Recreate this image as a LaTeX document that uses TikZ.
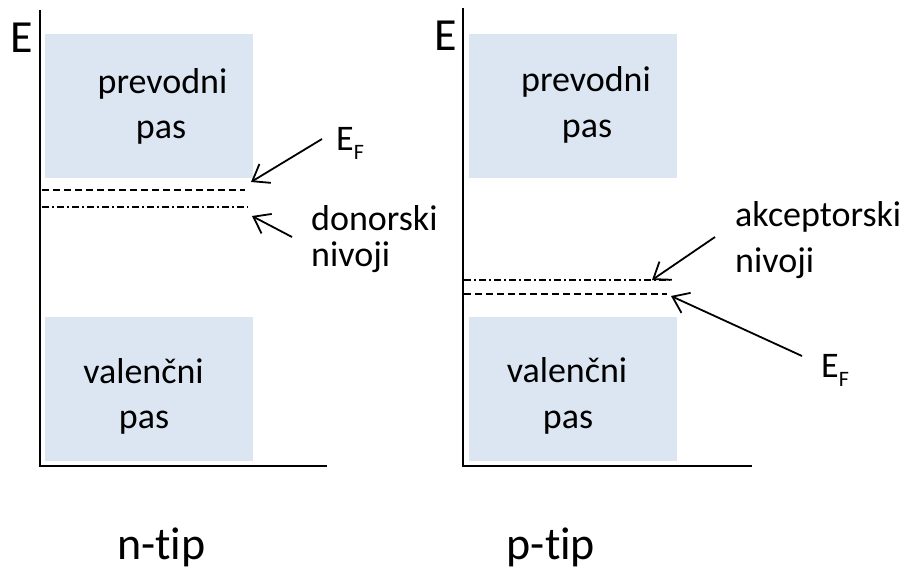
\documentclass[tikz,border=0pt]{standalone}
\usepackage{fontspec}
\setmainfont{Carlito}[RawFeature=-liga]
\usetikzlibrary{arrows.meta}
\definecolor{bandfill}{HTML}{DCE6F2}
\begin{document}
\begin{tikzpicture}[x=1pt,y=-1pt,
  axis/.style={line width=2.2pt},
  band/.style={fill=bandfill, draw=none, inner sep=0pt, anchor=north west, minimum width=208pt, minimum height=144pt},
  fermi/.style={line width=1.5pt, dash pattern=on 7pt off 4pt},
  impurity/.style={line width=1.5pt, dash pattern=on 7pt off 3pt on 2pt off 3pt},
  pointer/.style={line width=1.8pt, -{Straight Barb[length=15pt,width=22pt]}},
  lbl/.style={inner sep=0pt, font=\fontsize{36}{36}\selectfont},
  big/.style={inner sep=0pt, font=\fontsize{46}{46}\selectfont},
]
\useasboundingbox (0,0) rectangle (911,570);

% bands
\node[band] (cbL) at (45,34) {};
\node[band] (vbL) at (45,317) {};
\node[band] (cbR) at (469,34) {};
\node[band] (vbR) at (469,317) {};

% axes
\coordinate (aLtop) at (40,10);
\coordinate (aLo) at (40,466);
\coordinate (aLr) at (327,466);
\coordinate (aRtop) at (463,8);
\coordinate (aRo) at (463,466);
\coordinate (aRr) at (752,466);
\draw[axis] (aLtop) -- (aLo) -- (aLr);
\draw[axis] (aRtop) -- (aRo) -- (aRr);

% levels
\coordinate (fLa) at (42,190);  \coordinate (fLb) at (245,190);
\coordinate (dLa) at (42,207);  \coordinate (dLb) at (248,207);
\coordinate (aLa) at (464,280); \coordinate (aLb) at (670,280);
\coordinate (fRa) at (464,294); \coordinate (fRb) at (667,294);
\draw[fermi] (fLa) -- (fLb);
\draw[impurity] (dLa) -- (dLb);
\draw[impurity] (aLa) -- (aLb);
\draw[fermi] (fRa) -- (fRb);

% texts
\node[big, anchor=base] (EL) at (22,52) {E};
\node[big, anchor=base] (ER) at (446,50) {E};
\node[lbl, anchor=base] (cbLt1) at (162.5,93) {prevodni};
\node[lbl, anchor=base] (cbLt2) at (161,138) {pas};
\node[lbl, anchor=base] (vbLt1) at (143.5,383) {valenčni};
\node[lbl, anchor=base] (vbLt2) at (144,428) {pas};
\node[lbl, anchor=base] (cbRt1) at (586,91) {prevodni};
\node[lbl, anchor=base] (cbRt2) at (587,137) {pas};
\node[lbl, anchor=base] (vbRt1) at (567,382) {valenčni};
\node[lbl, anchor=base] (vbRt2) at (568,428) {pas};
\node[lbl, anchor=base west] (efL) at (336,150) {E\raisebox{-9pt}{\fontsize{22}{22}\selectfont F}};
\node[lbl, anchor=base west] (donL1) at (311,230) {donorski};
\node[lbl, anchor=base west] (donL2) at (311,266) {nivoji};
\node[lbl, anchor=base west] (accR1) at (735,226) {akceptorski};
\node[lbl, anchor=base west] (accR2) at (735,272) {nivoji};
\node[lbl, anchor=base west] (efR) at (821,377) {E\raisebox{-9pt}{\fontsize{22}{22}\selectfont F}};
\node[big, anchor=base] (ntip) at (161.5,559) {n-tip};
\node[big, anchor=base] (ptip) at (551,559) {p-tip};

% pointers
\coordinate (pEFLs) at (322,139); \coordinate (pEFLe) at (251,182);
\coordinate (pDLs) at (292,237);  \coordinate (pDLe) at (252,216);
\coordinate (pARs) at (715,237);  \coordinate (pARe) at (652,280);
\coordinate (pEFRs) at (802,356); \coordinate (pEFRe) at (671,296);
\draw[pointer] (pEFLs) -- (pEFLe);
\draw[pointer] (pDLs) -- (pDLe);
\draw[pointer] (pARs) -- (pARe);
\draw[pointer] (pEFRs) -- (pEFRe);
\end{tikzpicture}
\end{document}
